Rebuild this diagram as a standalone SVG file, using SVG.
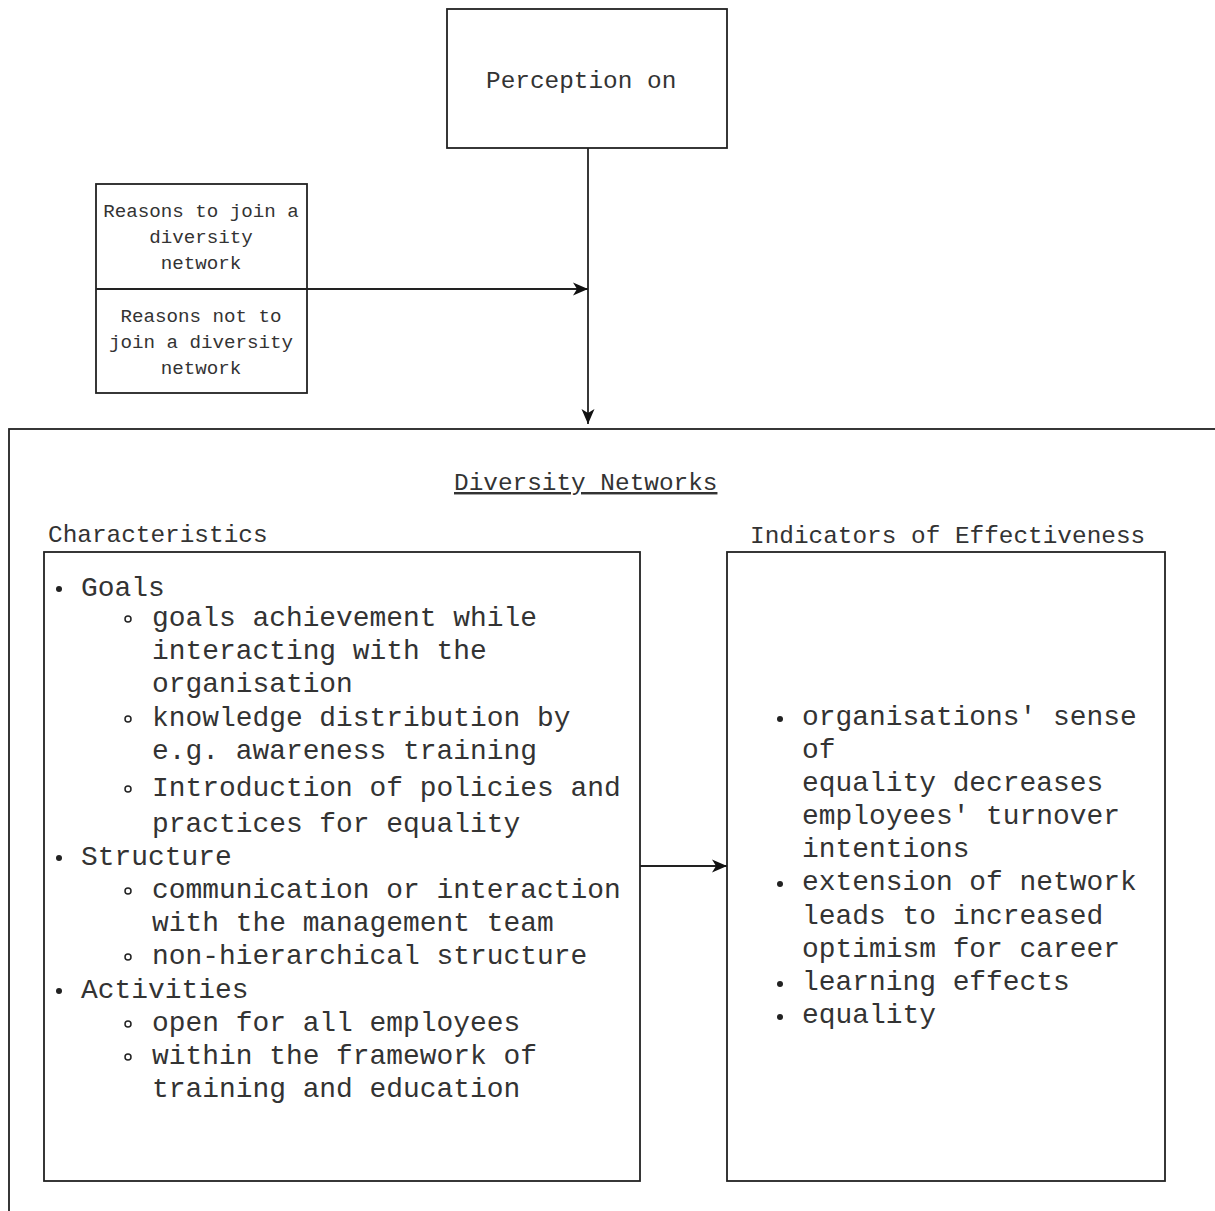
<svg xmlns="http://www.w3.org/2000/svg" width="1215" height="1211" viewBox="0 0 1215 1211">
<style>
.box{fill:#fff;stroke:#222;stroke-width:1.8}
.ln{fill:none;stroke:#222;stroke-width:1.8}
text{font-family:"Liberation Mono","Courier New",monospace;fill:#333}
.sm{font-size:19.2px}
.md{font-size:24.4px}
.lg{font-size:27.9px}
.b{fill:#222}
.c{fill:none;stroke:#222;stroke-width:1.5}
</style>
<defs>
<marker id="arr" markerUnits="userSpaceOnUse" markerWidth="16" markerHeight="16" refX="15" refY="8" orient="auto">
<path d="M0,1.5 L15,8 L0,14.5 L4,8 z" fill="#111"/>
</marker>
</defs>
<rect width="1215" height="1211" fill="#fff"/>

<g id="perception">
<rect class="box" x="447" y="9" width="280" height="139"/>
<text class="md" x="486" y="88">Perception on</text>
</g>

<g id="reasons">
<rect class="box" x="96" y="184" width="211" height="209"/>
<line class="ln" x1="96" y1="289" x2="307" y2="289"/>
<text class="sm" text-anchor="middle" x="201" y="217">Reasons to join a</text>
<text class="sm" text-anchor="middle" x="201" y="243">diversity</text>
<text class="sm" text-anchor="middle" x="201" y="269">network</text>
<text class="sm" text-anchor="middle" x="201" y="322">Reasons not to</text>
<text class="sm" text-anchor="middle" x="201" y="348">join a diversity</text>
<text class="sm" text-anchor="middle" x="201" y="374">network</text>
</g>

<g id="diversity-networks">
<rect class="box" x="9" y="429" width="1230" height="800"/>
<text class="md" x="454" y="490" text-decoration="underline">Diversity Networks</text>
<text class="md" x="48" y="542">Characteristics</text>
<text class="md" x="750" y="543">Indicators of Effectiveness</text>
</g>

<g id="characteristics">
<rect class="box" x="44" y="552" width="596" height="629"/>
<g class="lg">
<circle class="b" cx="59" cy="589" r="3"/>
<text x="81" y="596">Goals</text>
<circle class="c" cx="128" cy="619" r="3"/>
<text x="152" y="626">goals achievement while</text>
<text x="152" y="659">interacting with the</text>
<text x="152" y="692">organisation</text>
<circle class="c" cx="128" cy="719" r="3"/>
<text x="152" y="726">knowledge distribution by</text>
<text x="152" y="759">e.g. awareness training</text>
<circle class="c" cx="128" cy="789" r="3"/>
<text x="152" y="796">Introduction of policies and</text>
<text x="152" y="832">practices for equality</text>
<circle class="b" cx="59" cy="858" r="3"/>
<text x="81" y="865">Structure</text>
<circle class="c" cx="128" cy="891" r="3"/>
<text x="152" y="898">communication or interaction</text>
<text x="152" y="931">with the management team</text>
<circle class="c" cx="128" cy="957" r="3"/>
<text x="152" y="964">non-hierarchical structure</text>
<circle class="b" cx="59" cy="991" r="3"/>
<text x="81" y="998">Activities</text>
<circle class="c" cx="128" cy="1024" r="3"/>
<text x="152" y="1031">open for all employees</text>
<circle class="c" cx="128" cy="1057" r="3"/>
<text x="152" y="1064">within the framework of</text>
<text x="152" y="1097">training and education</text>
</g>
</g>

<g id="indicators">
<rect class="box" x="727" y="552" width="438" height="629"/>
<g class="lg">
<circle class="b" cx="780" cy="719" r="3"/>
<text x="802" y="725">organisations' sense</text>
<text x="802" y="758">of</text>
<text x="802" y="791">equality decreases</text>
<text x="802" y="824">employees' turnover</text>
<text x="802" y="857">intentions</text>
<circle class="b" cx="780" cy="884" r="3"/>
<text x="802" y="890">extension of network</text>
<text x="802" y="924">leads to increased</text>
<text x="802" y="957">optimism for career</text>
<circle class="b" cx="780" cy="984" r="3"/>
<text x="802" y="990">learning effects</text>
<circle class="b" cx="780" cy="1017" r="3"/>
<text x="802" y="1023">equality</text>
</g>
</g>

<g id="connectors">
<line class="ln" x1="588" y1="148" x2="588" y2="424" marker-end="url(#arr)"/>
<line class="ln" x1="307" y1="289" x2="588" y2="289" marker-end="url(#arr)"/>
<line class="ln" x1="640" y1="866" x2="727" y2="866" marker-end="url(#arr)"/>
</g>
</svg>
